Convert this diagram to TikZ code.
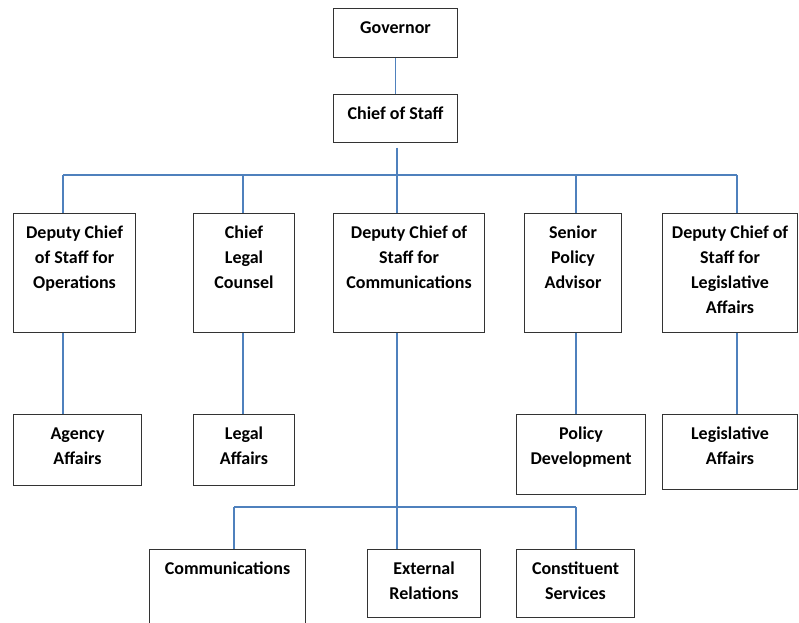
\documentclass[tikz,border=0pt]{standalone}
\usepackage{fontspec}
\setmainfont{Carlito}
\usepackage{tikz}
\definecolor{linkblue}{RGB}{79,129,189}
\newlength\px
\setlength\px{0.75pt}
\newcommand{\orgtext}[3]{\parbox[t][#2\px][t]{#1\px}{\centering\vspace{5.3pt}\strut #3}}
\def\link{\draw[orgline]}

\begin{document}
\begin{tikzpicture}[x=1\px,y=-1\px,
    orgbox/.style={draw=black!80,line width=0.8pt,inner sep=0pt,anchor=north west,
                   font=\fontsize{13.5}{18.75}\selectfont\bfseries},
    orgline/.style={draw=linkblue,line width=0.9pt}]
    \useasboundingbox (0,0) rectangle (799,623);
    % top
    \node[orgbox] (gov) at (333,8)  {\orgtext{124}{49}{Governor}};
    \node[orgbox] (cos) at (333,94) {\orgtext{124}{48}{Chief of Staff}};
    % second row
    \node[orgbox] (ops)    at (13,213)  {\orgtext{122}{119}{Deputy Chief\\of Staff for\\Operations}};
    \node[orgbox] (legal)  at (193,213) {\orgtext{101}{119}{Chief\\Legal\\Counsel}};
    \node[orgbox] (comm)   at (333,213) {\orgtext{151}{119}{Deputy Chief of\\Staff for\\Communications}};
    \node[orgbox] (policy) at (524,213) {\orgtext{97}{119}{Senior\\Policy\\Advisor}};
    \node[orgbox] (leg)    at (662,213) {\orgtext{135}{119}{Deputy Chief of\\Staff for\\Legislative\\Affairs}};
    % third row
    \node[orgbox] (agency)   at (13,414)  {\orgtext{128}{71}{Agency\\Affairs}};
    \node[orgbox] (legalaff) at (193,414) {\orgtext{101}{71}{Legal\\Affairs}};
    \node[orgbox] (poldev)   at (516,414) {\orgtext{129}{80}{Policy\\Development}};
    \node[orgbox] (legaff)   at (662,414) {\orgtext{135}{75}{Legislative\\Affairs}};
    % bottom row
    \node[orgbox] (commun)  at (149,549) {\orgtext{156}{90}{Communications}};
    \node[orgbox] (extrel)  at (367,549) {\orgtext{113}{68}{External\\Relations}};
    \node[orgbox] (constit) at (516,549) {\orgtext{118}{68}{Constituent\\Services}};

    \coordinate (b1) at (63,175);
    \coordinate (b2) at (243,175);
    \coordinate (b3) at (397,175);
    \coordinate (b4) at (576,175);
    \coordinate (b5) at (737,175);
    \coordinate (c1) at (234,507);
    \coordinate (c3) at (576,507);

    \link (gov) -- (cos);
    \draw[orgline,shorten <=3.5pt] (cos.south -| b3) -- (b3);
    \link (b1) -- (b5);
    \link (b1) -- (b1 |- ops.north);
    \link (b2) -- (b2 |- legal.north);
    \link (b3) -- (b3 |- comm.north);
    \link (b4) -- (b4 |- policy.north);
    \link (b5) -- (b5 |- leg.north);
    \link (b1 |- ops.south) -- (b1 |- agency.north);
    \link (b2 |- legal.south) -- (b2 |- legalaff.north);
    \link (b4 |- policy.south) -- (b4 |- poldev.north);
    \link (b5 |- leg.south) -- (b5 |- legaff.north);
    \link (b3 |- comm.south) -- (b3 |- extrel.north);
    \link (c1) -- (c3);
    \link (c1) -- (c1 |- commun.north);
    \link (c3) -- (c3 |- constit.north);
\end{tikzpicture}
\end{document}
